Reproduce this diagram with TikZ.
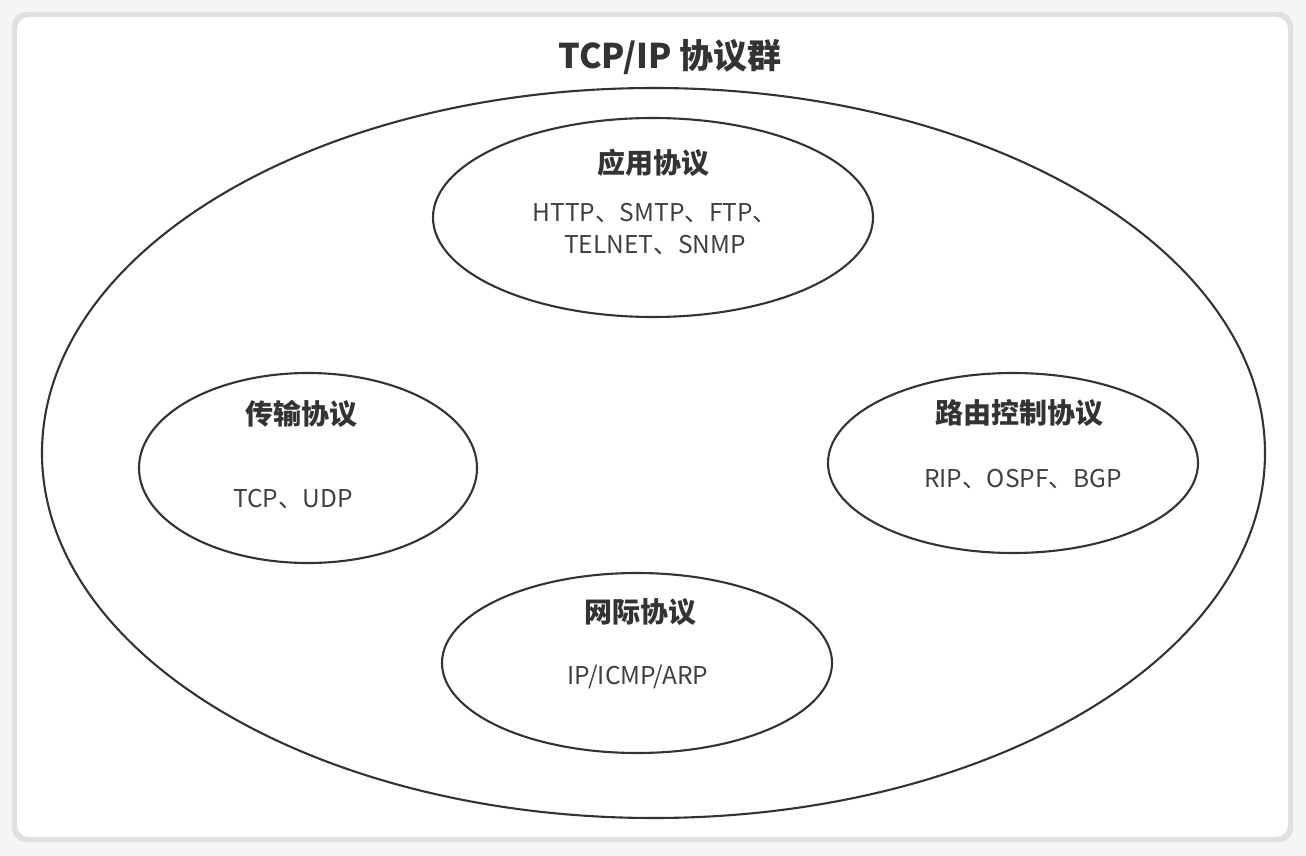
\documentclass[tikz,border=0pt]{standalone}
\usepackage{fontspec}
\setmainfont{Noto Sans CJK SC}
\usetikzlibrary{shapes.geometric}

\begin{document}
\begin{tikzpicture}[x=1pt, y=-1pt,
  ring/.style={draw=black!80, line width=2.1pt, ellipse, inner sep=0pt},
  head/.style={font=\fontsize{28}{32}\selectfont\bfseries, text=black!80},
  proto/.style={font=\fontsize{24.5}{32}\selectfont, text=black!75, align=center}]
% panel with soft border
\fill[black!4] (0,0) rectangle (1306,856);
\fill[black!12, rounded corners=14pt] (12,12) rectangle (1293,842);
\fill[white, rounded corners=12pt] (17,17) rectangle (1288,837);
\useasboundingbox (0,0) rectangle (1306,856);
% title and outer ring
\node[head, font=\fontsize{34}{38}\selectfont\bfseries] (title) at (670,57) {TCP/IP 协议群};
\node[ring, minimum width=1223, minimum height=730] (suite) at (653.5,453) {};
% application layer
\node[ring, minimum width=440, minimum height=199] (app) at (653,217.5) {};
\node[head] (apphead) at (653,163) {应用协议};
\node[proto] (applist) at (655,229) {HTTP、SMTP、FTP、\\TELNET、SNMP};
% transport layer
\node[ring, minimum width=338, minimum height=190] (trans) at (308,468) {};
\node[head] (transhead) at (301,414) {传输协议};
\node[proto] (translist) at (293,499) {TCP、UDP};
% routing
\node[ring, minimum width=370, minimum height=180] (route) at (1013,463) {};
\node[head] (routehead) at (1019,413) {路由控制协议};
\node[proto] (routelist) at (1023,479) {RIP、OSPF、BGP};
% internet layer
\node[ring, minimum width=390, minimum height=180] (inet) at (637,663) {};
\node[head] (inethead) at (640,612) {网际协议};
\node[proto] (inetlist) at (638,677) {IP/ICMP/ARP};
\end{tikzpicture}
\end{document}
